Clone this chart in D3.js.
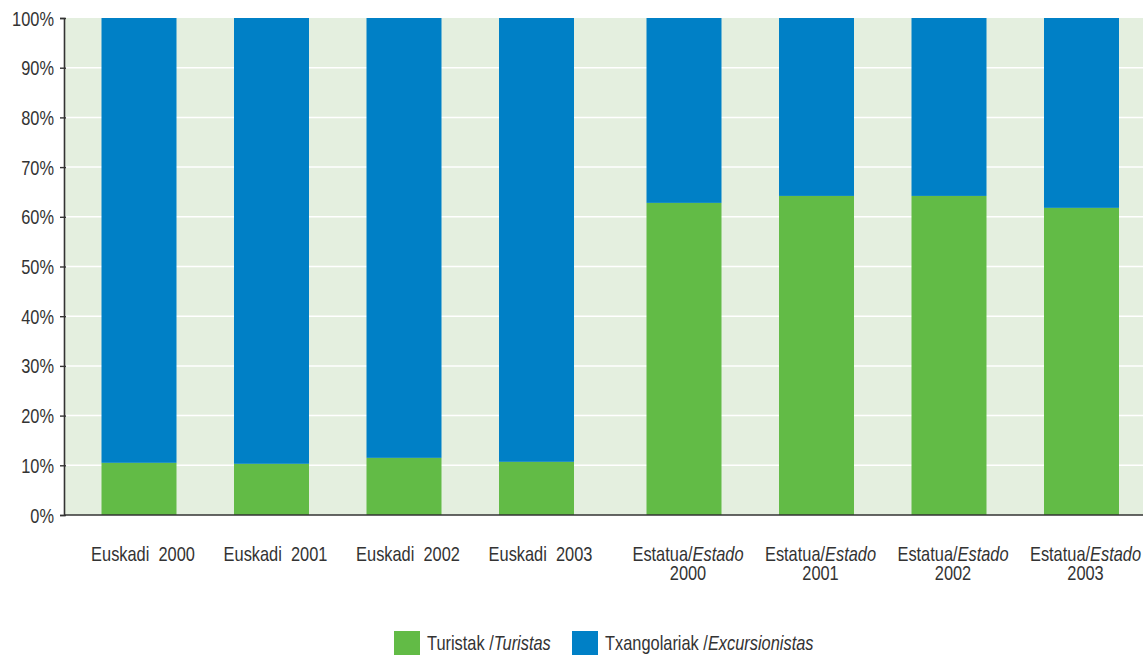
<!DOCTYPE html>
<html>
<head>
<meta charset="utf-8">
<script src="https://cdn.jsdelivr.net/npm/d3@7"></script>
<style>
  html, body { margin: 0; padding: 0; background: #fff; }
  svg { display: block; font-family: "Liberation Sans", Arial, sans-serif; }
</style>
</head>
<body>
<svg id="chart" width="1148" height="655"></svg>
<script>
// ---- data ----
const categories = ["Euskadi 2000", "Euskadi 2001", "Euskadi 2002", "Euskadi 2003",
                    "Estatua 2000", "Estatua 2001", "Estatua 2002", "Estatua 2003"];
const groups = ["Euskadi", "Euskadi", "Euskadi", "Euskadi", "Estatua", "Estatua", "Estatua", "Estatua"];
const years = ["2000", "2001", "2002", "2003", "2000", "2001", "2002", "2003"];
const turistas = [10.5, 10.3, 11.5, 10.7, 62.8, 64.2, 64.2, 61.8];
const excursionistas = [89.5, 89.7, 88.5, 89.3, 37.2, 35.8, 35.8, 38.2];
const yTicks = [0, 10, 20, 30, 40, 50, 60, 70, 80, 90, 100];
const seriesNames = [["Turistak /", "Turistas"], ["Txangolariak /", "Excursionistas"]];
const colors = ["#62bb46", "#0080c6"];

// ---- layout ----
const svg = d3.select("#chart");
const pLeft = 64, pRight = 1143, pTop = 18, pBottom = 515;
const groupGap = 15;
const labelShift = 4;
const sx = 0.82;          // horizontal condensing of text
const fs = 20;            // font size
const textColor = "#333";

const y = d3.scaleLinear().domain([0, 100]).range([pBottom, pTop]);
const x = d3.scaleBand().domain(categories)
  .range([pLeft + 8.75, pLeft + 8.75 + 1060])
  .paddingInner(0.434).paddingOuter(0.217);
const gx = d3.scaleOrdinal().domain(["Euskadi", "Estatua"]).range([0, groupGap]);
const xPos = i => x(categories[i]) + gx(groups[i]);

// background
svg.append("rect").attr("x", pLeft).attr("y", pTop)
  .attr("width", pRight - pLeft).attr("height", pBottom - pTop).attr("fill", "#e4efdf");

// gridlines
svg.append("g").selectAll("line").data(yTicks.filter(t => t > 0 && t < 100)).join("line")
  .attr("x1", pLeft).attr("x2", pRight)
  .attr("y1", d => y(d)).attr("y2", d => y(d))
  .attr("stroke", "#ffffff").attr("stroke-width", 1.5);

// stacked bars
const rows = categories.map((c, i) => ({ i, tur: turistas[i], exc: excursionistas[i] }));
const stack = d3.stack().keys(["tur", "exc"])(rows);
svg.append("g").selectAll("g").data(stack).join("g")
  .attr("fill", (d, k) => colors[k])
  .selectAll("rect").data(d => d).join("rect")
  .attr("x", d => xPos(d.data.i))
  .attr("width", x.bandwidth())
  .attr("y", d => y(d[1]))
  .attr("height", d => y(d[0]) - y(d[1]));

// y axis
const yAxis = svg.append("g").attr("transform", `translate(${pLeft},0)`)
  .call(d3.axisLeft(y).tickValues(yTicks).tickFormat(d => d + "%").tickSize(4).tickPadding(6));
yAxis.select(".domain").attr("stroke", textColor).attr("stroke-width", 1.6);
yAxis.selectAll(".tick line").attr("stroke", textColor).attr("stroke-width", 1.4).attr("x2", -4).attr("x1", 2);
yAxis.selectAll(".tick text").attr("font-size", fs).attr("fill", textColor)
  .attr("font-family", "Liberation Sans, Arial, sans-serif")
  .attr("x", -10 / sx).attr("dy", "0.35em")
  .attr("transform", `scale(${sx},1)`);

// x axis line
svg.append("line").attr("x1", pLeft).attr("x2", pRight).attr("y1", pBottom).attr("y2", pBottom)
  .attr("stroke", textColor).attr("stroke-width", 1.6);

// x labels
const xl = svg.append("g").selectAll("text").data(categories).join("text")
  .attr("text-anchor", "middle")
  .attr("font-size", fs).attr("fill", textColor)
  .attr("transform", (d, i) => `translate(${xPos(i) + x.bandwidth() / 2 + labelShift},561) scale(${sx},1)`);
xl.each(function (d, i) {
  const t = d3.select(this);
  if (groups[i] === "Euskadi") {
    t.attr("xml:space", "preserve").style("white-space", "pre").text("Euskadi  " + years[i]);
  } else {
    t.append("tspan").attr("x", 0).text("Estatua/");
    t.append("tspan").attr("font-style", "italic").text("Estado");
    t.append("tspan").attr("x", 0).attr("dy", 19).text(years[i]);
  }
});

// legend
const legend = svg.append("g");
const legX = [394, 572];
seriesNames.forEach((s, k) => {
  legend.append("rect").attr("x", legX[k]).attr("y", 631).attr("width", 26).attr("height", 24).attr("fill", colors[k]);
  const t = legend.append("text").attr("font-size", fs).attr("fill", textColor)
    .attr("transform", `translate(${legX[k] + 33},650) scale(${sx},1)`);
  t.append("tspan").text(s[0]);
  t.append("tspan").attr("font-style", "italic").text(s[1]);
});
</script>
</body>
</html>
